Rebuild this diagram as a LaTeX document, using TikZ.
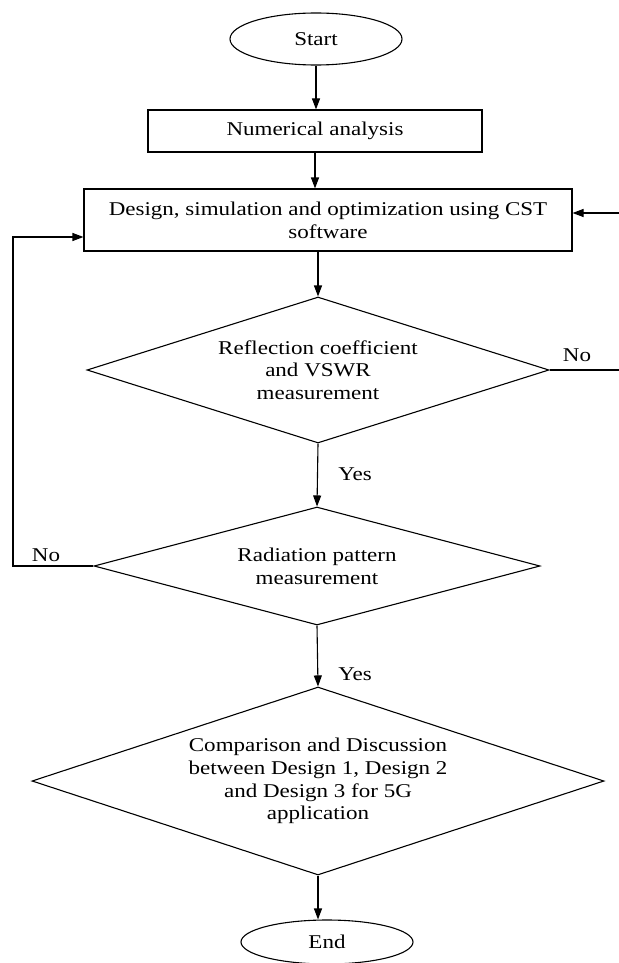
\documentclass[tikz,border=0pt]{standalone}
\usepackage{fontspec}
\setmainfont{Liberation Serif}[FakeStretch=1.18]
\usetikzlibrary{shapes.geometric,arrows.meta}

\tikzset{
  flow/.style={draw, line width=1.1pt, font=\fontsize{19.5}{22.7}\selectfont},
  terminal/.style={flow, ellipse, inner sep=0pt},
  process/.style={flow, rectangle, align=center, inner sep=0pt},
  decision/.style={flow, diamond, align=center, inner sep=0pt},
  arr/.style={line width=1.1pt, -{Triangle[length=11pt,width=8pt]}},
  lbl/.style={font=\fontsize{19.5}{22.7}\selectfont}
}

\begin{document}
\begin{tikzpicture}[x=1pt,y=-1pt]
        \useasboundingbox (0,0) rectangle (618,963);

        \node[terminal, minimum width=172pt, minimum height=52pt] (start) at (316,39) {Start};
        \node[process, minimum width=334pt, minimum height=42pt] (num) at (315,131) {Numerical analysis};
        \node[process, minimum width=488pt, minimum height=62pt] (design) at (328,220)
            {Design, simulation and optimization using CST\\software};
        \node[decision, minimum width=462pt, minimum height=146pt, shape aspect=3.16] (refl) at (318,370)
            {Reflection coefficient\\and VSWR\\measurement};
        \node[decision, minimum width=446pt, minimum height=118pt, shape aspect=3.78] (rad) at (317,566)
            {Radiation pattern\\measurement};
        \node[decision, minimum width=572pt, minimum height=188pt, shape aspect=3.04] (comp) at (318,781)
            {Comparison and Discussion\\between Design 1, Design 2\\and Design 3 for 5G\\application};
        \node[terminal, minimum width=172pt, minimum height=44pt] (stop) at (327,942) {End};

        \coordinate (rin) at (621,213);
        \coordinate (lin) at (13,237);

        \draw[arr] (start.south) -- (start.south |- num.north);
        \draw[arr] (num.south) -- (num.south |- design.north);
        \draw[arr] (refl.north |- design.south) -- (refl.north);
        \draw[arr] (refl.south) -- (rad.north);
        \draw[arr] (rad.south) -- (comp.north);
        \draw[arr] (comp.south) -- (comp.south |- stop.north);

        % loops back to the design step
        \draw[arr] (refl.east) -| (rin) -- (rin -| design.east);
        \draw[arr] (rad.west) -| (lin) -- (lin -| design.west);

        \node[lbl] (no1) at (577,355) {No};
        \node[lbl] (no2) at (46,555) {No};
        \node[lbl] (yes1) at (355,474) {Yes};
        \node[lbl] (yes2) at (355,674) {Yes};
    \end{tikzpicture}
\end{document}
